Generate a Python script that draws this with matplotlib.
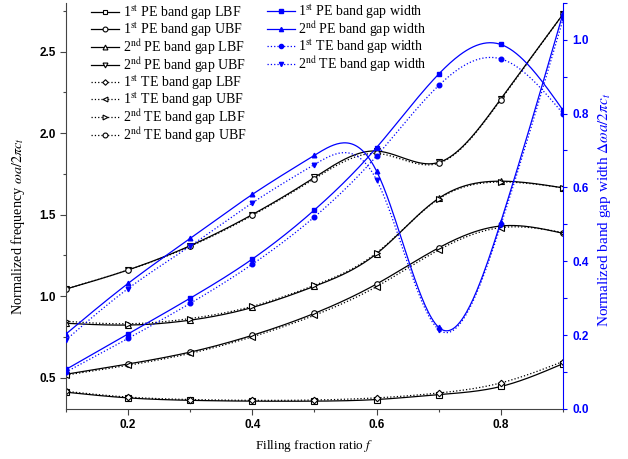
import matplotlib
matplotlib.use("Agg")
import matplotlib.pyplot as plt
import numpy as np
from matplotlib.ticker import MultipleLocator

plt.rcParams['font.family'] = ['Liberation Serif', 'DejaVu Serif']
plt.rcParams['mathtext.fontset'] = 'stix'

# filling fraction
f = [0.1, 0.2, 0.3, 0.4, 0.5, 0.6, 0.7, 0.8, 0.9]

# band edges (left axis)
pe1_lbf = [0.41, 0.375, 0.36, 0.355, 0.355, 0.365, 0.395, 0.445, 0.585]
pe1_ubf = [0.52, 0.583, 0.656, 0.759, 0.894, 1.074, 1.296, 1.43, 1.385]
pe2_lbf = [0.833, 0.822, 0.852, 0.93, 1.06, 1.26, 1.60, 1.705, 1.664]
pe2_ubf = [1.043, 1.16, 1.309, 1.50, 1.728, 1.89, 1.82, 2.21, 2.73]
te1_lbf = [0.415, 0.38, 0.365, 0.36, 0.362, 0.375, 0.405, 0.467, 0.598]
te1_ubf = [0.515, 0.575, 0.648, 0.75, 0.882, 1.058, 1.283, 1.42, 1.39]
te2_lbf = [0.845, 0.83, 0.862, 0.937, 1.066, 1.265, 1.596, 1.70, 1.664]
te2_ubf = [1.043, 1.16, 1.305, 1.495, 1.72, 1.875, 1.815, 2.205, 2.73]

# band gap widths (right axis)
pe1_w = [0.107, 0.203, 0.300, 0.406, 0.539, 0.708, 0.907, 0.987, 0.809]
pe2_w = [0.203, 0.340, 0.462, 0.581, 0.687, 0.644, 0.221, 0.507, 1.071]
te1_w = [0.100, 0.191, 0.286, 0.392, 0.520, 0.685, 0.876, 0.948, 0.800]
te2_w = [0.187, 0.326, 0.441, 0.558, 0.662, 0.620, 0.215, 0.498, 1.055]


def spline(x, y, n=300):
    # natural cubic spline through the points
    x = np.asarray(x, float)
    y = np.asarray(y, float)
    N = len(x)
    h = np.diff(x)
    A = np.zeros((N, N))
    b = np.zeros(N)
    A[0, 0] = A[-1, -1] = 1
    for i in range(1, N - 1):
        A[i, i - 1] = h[i - 1]
        A[i, i] = 2 * (h[i - 1] + h[i])
        A[i, i + 1] = h[i]
        b[i] = 3 * ((y[i + 1] - y[i]) / h[i] - (y[i] - y[i - 1]) / h[i - 1])
    c = np.linalg.solve(A, b)
    xs = np.linspace(x[0], x[-1], n)
    k = np.clip(np.searchsorted(x, xs) - 1, 0, N - 2)
    dx = xs - x[k]
    bk = (y[k + 1] - y[k]) / h[k] - h[k] * (2 * c[k] + c[k + 1]) / 3
    dk = (c[k + 1] - c[k]) / (3 * h[k])
    return xs, y[k] + bk * dx + c[k] * dx ** 2 + dk * dx ** 3


fig = plt.figure(figsize=(6.28, 4.59), dpi=100)
ax1 = fig.add_axes([0.105, 0.109, 0.7915, 0.885])
ax2 = ax1.twinx()

black = [
    (pe1_lbf, '-', 's', r'1$^{\rm st}$ PE band gap LBF'),
    (pe1_ubf, '-', 'o', r'1$^{\rm st}$ PE band gap UBF'),
    (pe2_lbf, '-', '^', r'2$^{\rm nd}$ PE band gap LBF'),
    (pe2_ubf, '-', 'v', r'2$^{\rm nd}$ PE band gap UBF'),
    (te1_lbf, ':', 'D', r'1$^{\rm st}$ TE band gap LBF'),
    (te1_ubf, ':', '<', r'1$^{\rm st}$ TE band gap UBF'),
    (te2_lbf, ':', '>', r'2$^{\rm nd}$ TE band gap LBF'),
    (te2_ubf, ':', 'o', r'2$^{\rm nd}$ TE band gap UBF'),
]
h1 = []
for y, ls, mk, lab in black:
    ms = 3.3 if mk == 'D' else 4
    xs, ys = spline(f, y)
    ax1.plot(xs, ys, color='black', ls=ls, lw=0.9)
    ax1.plot(f, y, ls='none', marker=mk, ms=ms, mfc='white', mec='black', mew=0.8)
    h1.append(plt.Line2D([], [], color='black', ls=ls, lw=0.9, marker=mk,
                         ms=ms - 0.5, mfc='white', mec='black', mew=0.8, label=lab))

blue = [
    (pe1_w, '-', 's', r'1$^{\rm st}$ PE band gap width'),
    (pe2_w, '-', '^', r'2$^{\rm nd}$ PE band gap width'),
    (te1_w, ':', 'o', r'1$^{\rm st}$ TE band gap width'),
    (te2_w, ':', 'v', r'2$^{\rm nd}$ TE band gap width'),
]
h2 = []
for y, ls, mk, lab in blue:
    xs, ys = spline(f, y)
    ax2.plot(xs, ys, color='blue', ls=ls, lw=0.9)
    ax2.plot(f, y, ls='none', marker=mk, ms=3.3, color='blue')
    h2.append(plt.Line2D([], [], color='blue', ls=ls, lw=0.9, marker=mk, ms=3,
                         label=lab))

ax1.set_xlim(0.1, 0.9)
ax1.set_ylim(0.307, 2.80)
ax2.set_ylim(0, 1.1)

ax1.xaxis.set_major_locator(MultipleLocator(0.2))
ax1.xaxis.set_minor_locator(MultipleLocator(0.1))
ax1.yaxis.set_major_locator(MultipleLocator(0.5))
ax1.yaxis.set_minor_locator(MultipleLocator(0.25))
ax2.yaxis.set_major_locator(MultipleLocator(0.2))
ax2.yaxis.set_minor_locator(MultipleLocator(0.1))

ax1.spines['top'].set_visible(False)
ax2.spines['top'].set_visible(False)
ax2.spines['left'].set_visible(False)
ax2.spines['bottom'].set_visible(False)
ax2.spines['right'].set_color('blue')
ax1.spines['left'].set_color('#444444')
ax1.spines['bottom'].set_color('#444444')
ax1.spines['right'].set_visible(False)

ax1.tick_params(which='major', length=4, width=0.8, color='#444444')
ax1.tick_params(which='minor', length=2.5, width=0.8, color='#444444')
ax2.tick_params(which='both', length=3, width=0.8, color='blue', labelcolor='blue')
for lab in ax1.get_xticklabels() + ax1.get_yticklabels() + ax2.get_yticklabels():
    lab.set_fontfamily('Liberation Sans')
    lab.set_fontweight('bold')
    lab.set_fontsize(8.5)

ax1.set_xlabel(r'Filling fraction ratio $f$', fontsize=9.5, labelpad=5)
ax1.set_ylabel(r'Normalized frequency $\omega a/2\pi c_t$', fontsize=10.3)
ax2.set_ylabel(r'Normalized band gap width $\Delta\omega a/2\pi c_t$', fontsize=11,
               color='blue')
ax1.yaxis.set_label_coords(-0.078, 0.45)
ax2.yaxis.set_label_coords(1.066, 0.49)

leg1 = ax1.legend(handles=h1, loc='upper left', bbox_to_anchor=(0.04, 1.012),
                  frameon=False, fontsize=10, handlelength=2.0, handletextpad=0.25,
                  labelspacing=-0.1, borderaxespad=0)
leg2 = ax2.legend(handles=h2, loc='upper left', bbox_to_anchor=(0.393, 1.015),
                  frameon=False, fontsize=10, handlelength=2.0, handletextpad=0.25,
                  labelspacing=-0.1, borderaxespad=0)

fig.savefig('out.png', dpi=100)
